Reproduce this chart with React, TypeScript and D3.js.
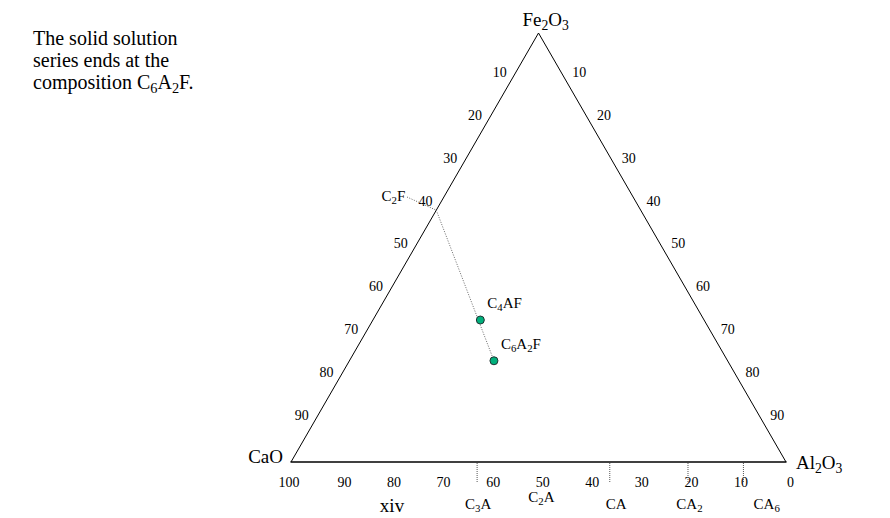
import React from "react";
import * as d3 from "d3";

// ---- data ----
const noteLines = ["The solid solution", "series ends at the", "composition C_6A_2F."];
const edgeTicks = [10, 20, 30, 40, 50, 60, 70, 80, 90];
const baseTicks = [100, 90, 80, 70, 60, 50, 40, 30, 20, 10, 0];
// binary CaO–Al2O3 compounds: CaO wt% of tick, CaO wt% of label position
const compoundNames = ["C_3A", "C_2A", "CA", "CA_2", "CA_6"];
const compoundTickCaO = [62.4, null, 35.6, 19.8, 8.6];
const compoundLabelCaO = [62.2, 49.4, 34.3, 19.5, 3.9];
const compoundLabelLift = [0, 7, 0, 0, 0];
// ternary points (wt% CaO, Al2O3, Fe2O3)
const pointNames = ["C_4AF", "C_6A_2F"];
const pointCaO = [45.2, 47.2];
const pointAl = [21.7, 29.2];
const pointFe = [33.1, 23.6];
const c2f = { name: "C_2F", C: 41.3, A: 0, F: 58.7 };

const FONT = "'Liberation Serif', 'Times New Roman', serif";

// scales
const xS = d3.scaleLinear().domain([0, 100]).range([291, 786]);
const yS = d3.scaleLinear().domain([0, 100]).range([462, 33]);
const tern = (C: number, A: number, F: number) => {
  const s = C + A + F;
  const a = (A / s) * 100, f = (F / s) * 100;
  return [xS(a + f / 2), yS(f)];
};
const baseLabelX = d3.scaleLinear().domain([90, 0]).range([344.5, 790.5]);

function Formula({ text, size, ...rest }: any) {
  const parts = text.split(/(_\d)/).filter((p: string) => p.length);
  const out: any[] = [];
  let sub = false;
  const off = size * 0.22;
  parts.forEach((p: string, i: number) => {
    if (p.startsWith("_")) {
      out.push(
        <tspan key={i} dy={off} fontSize={size * 0.72}>
          {p.slice(1)}
        </tspan>
      );
      sub = true;
    } else {
      out.push(
        <tspan key={i} dy={sub ? -off : 0}>
          {p}
        </tspan>
      );
      sub = false;
    }
  });
  return (
    <text fontSize={size} fontFamily={FONT} fill="#000" {...rest}>
      {out}
    </text>
  );
}

export default function App() {
  const top = tern(0, 0, 100);
  const left = tern(100, 0, 0);
  const right = tern(0, 100, 0);
  const c2fP = tern(c2f.C, c2f.A, c2f.F);
  const pts = pointNames.map((n, i) => ({ n, p: tern(pointCaO[i], pointAl[i], pointFe[i]) }));
  const last = pts[pts.length - 1].p;

  return (
    <svg
      width={890}
      height={518}
      style={{ position: "absolute", left: 0, top: 0, background: "#fff" }}
    >
      <rect width={890} height={518} fill="#fff" />
      {noteLines.map((l, i) => (
        <Formula key={i} text={l} size={20} x={33} y={45 + i * 22} />
      ))}

      {/* triangle */}
      <line x1={left[0]} y1={left[1]} x2={top[0]} y2={top[1]} stroke="#000" strokeWidth={1} />
      <line x1={right[0]} y1={right[1]} x2={top[0]} y2={top[1]} stroke="#000" strokeWidth={1} />
      <line x1={left[0] - 0.5} y1={left[1]} x2={right[0] + 0.5} y2={right[1]} stroke="#000" strokeWidth={1.6} />

      {/* corner labels */}
      <Formula text="Fe_2O_3" size={19} x={top[0] - 16} y={top[1] - 7} />
      <Formula text="CaO" size={19} x={left[0] - 8} y={left[1] + 1} textAnchor="end" />
      <Formula text="Al_2O_3" size={19} x={right[0] + 10} y={right[1] + 7} />

      {/* left edge labels */}
      {edgeTicks.map((v) => {
        const [x, y] = tern(v, 0, 100 - v);
        return (
          <text key={"l" + v} x={x - 14} y={y - 4} dy="0.35em" textAnchor="middle" fontSize={14} fontFamily={FONT}>
            {v}
          </text>
        );
      })}
      {/* right edge labels */}
      {edgeTicks.map((v) => {
        const [x, y] = tern(0, v, 100 - v);
        return (
          <text key={"r" + v} x={x + 16} y={y - 4} dy="0.35em" textAnchor="middle" fontSize={14} fontFamily={FONT}>
            {v}
          </text>
        );
      })}
      {/* base labels */}
      {baseTicks.map((v) => (
        <text
          key={"b" + v}
          x={baseLabelX(v) + (v === 100 ? -6 : 0)}
          y={482}
          dy="0.35em"
          textAnchor="middle"
          fontSize={14}
          fontFamily={FONT}
        >
          {v}
        </text>
      ))}

      {/* compound ticks and labels */}
      {compoundNames.map((n, i) => {
        const t = compoundTickCaO[i];
        const lx = xS(100 - compoundLabelCaO[i]);
        return (
          <g key={n}>
            {t !== null && (
              <line
                x1={xS(100 - t)}
                x2={xS(100 - t)}
                y1={463}
                y2={482}
                stroke="#555"
                strokeWidth={1}
                strokeDasharray="1,1"
              />
            )}
            <Formula text={n} size={15} x={lx} y={509 - compoundLabelLift[i]} textAnchor="middle" />
          </g>
        );
      })}

      <text x={392} y={512} textAnchor="middle" fontSize={19} fontFamily={FONT}>
        xiv
      </text>

      {/* C2F leader and tie line */}
      <line x1={407} y1={197} x2={c2fP[0]} y2={c2fP[1]} stroke="#666" strokeWidth={1} strokeDasharray="1,1.5" />
      <line x1={c2fP[0]} y1={c2fP[1]} x2={last[0]} y2={last[1]} stroke="#666" strokeWidth={1} strokeDasharray="1,1.5" />
      <Formula text={c2f.name} size={15} x={c2fP[0] - 31} y={c2fP[1] - 9} textAnchor="end" />

      {pts.map(({ n, p }) => (
        <g key={n}>
          <circle cx={p[0]} cy={p[1]} r={4} fill="#00b07c" stroke="#233" strokeWidth={1} />
          <Formula text={n} size={15} x={p[0] + 7} y={p[1] - 12} />
        </g>
      ))}
    </svg>
  );
}
